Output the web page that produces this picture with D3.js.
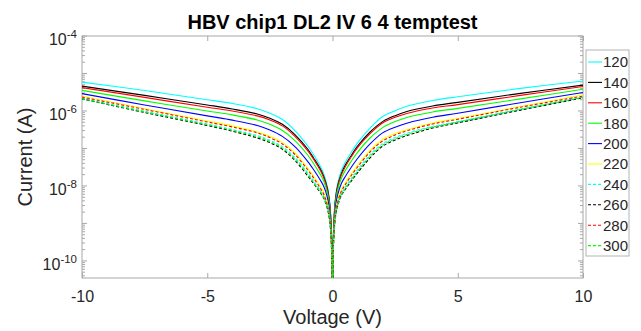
<!DOCTYPE html>
<html>
<head>
<meta charset="utf-8">
<script src="https://cdn.jsdelivr.net/npm/d3@7"></script>
<style>
  body { margin: 0; background: #fff; }
  svg { font-family: "Liberation Sans", Arial, sans-serif; }
  .axis path, .axis line { stroke: #a8a8a8; }
  .axis text { fill: #262626; font-size: 16px; }
</style>
</head>
<body>
<div id="chart"></div>
<script>
// Temperatures (legend labels) and sweep voltages
const temps = ["120", "140", "160", "180", "200", "220", "240", "260", "280", "300"];
const voltage = [-10, -7.5, -5, -4, -3, -2.5, -2, -1.5, -1, -0.75, -0.5, -0.35, -0.2, -0.12, -0.06, -0.02, 0,
  0.02, 0.06, 0.12, 0.2, 0.35, 0.5, 0.75, 1, 1.5, 2, 2.5, 3, 4, 5, 7.5, 10];

// |Current| (A) per temperature, same order as voltage
const current120 = [5.9e-6, 3.5e-6, 2.0e-6, 1.58e-6, 1.15e-6, 8.7e-7, 5.9e-7, 3.0e-7, 1.2e-7, 6.8e-8, 3.5e-8, 2.1e-8, 9.5e-9, 4.3e-9, 1.26e-9, 1.78e-10, 2e-11,
  2.0e-10, 1.41e-9, 5.0e-9, 1.12e-8, 2.5e-8, 4.2e-8, 7.9e-8, 1.41e-7, 3.5e-7, 7.1e-7, 1.02e-6, 1.35e-6, 1.9e-6, 2.4e-6, 4.0e-6, 6.3e-6];
const current140 = [4.6e-6, 2.6e-6, 1.45e-6, 1.13e-6, 8.3e-7, 6.4e-7, 4.4e-7, 2.35e-7, 9.8e-8, 5.5e-8, 2.95e-8, 1.8e-8, 8.3e-9, 3.8e-9, 1.12e-9, 1.58e-10, 2e-11,
  1.78e-10, 1.26e-9, 4.5e-9, 9.8e-9, 2.1e-8, 3.5e-8, 6.5e-8, 1.15e-7, 2.75e-7, 5.2e-7, 7.5e-7, 9.8e-7, 1.36e-6, 1.7e-6, 2.95e-6, 4.9e-6];
const current160 = [4.2e-6, 2.3e-6, 1.26e-6, 1.0e-6, 7.4e-7, 5.75e-7, 4.0e-7, 2.1e-7, 8.9e-8, 5.1e-8, 2.7e-8, 1.66e-8, 7.6e-9, 3.5e-9, 1.05e-9, 1.5e-10, 2e-11,
  1.7e-10, 1.17e-9, 4.1e-9, 8.9e-9, 1.95e-8, 3.16e-8, 6.0e-8, 1.05e-7, 2.5e-7, 4.8e-7, 6.8e-7, 8.7e-7, 1.2e-6, 1.48e-6, 2.6e-6, 4.5e-6];
const current180 = [3.55e-6, 1.86e-6, 1.0e-6, 7.85e-7, 5.75e-7, 4.4e-7, 3.0e-7, 1.62e-7, 6.8e-8, 3.9e-8, 2.1e-8, 1.35e-8, 6.3e-9, 2.95e-9, 9.1e-10, 1.35e-10, 2e-11,
  1.5e-10, 1.02e-9, 3.5e-9, 7.4e-9, 1.58e-8, 2.5e-8, 4.6e-8, 7.9e-8, 1.9e-7, 3.6e-7, 5.2e-7, 6.8e-7, 9.4e-7, 1.17e-6, 2.1e-6, 3.8e-6];
const current200 = [2.9e-6, 1.45e-6, 7.4e-7, 5.7e-7, 4.1e-7, 3.1e-7, 2.1e-7, 1.12e-7, 4.6e-8, 2.7e-8, 1.48e-8, 9.8e-9, 4.8e-9, 2.3e-9, 7.2e-10, 1.12e-10, 2e-11,
  1.26e-10, 8.1e-10, 2.7e-9, 5.6e-9, 1.15e-8, 1.74e-8, 3.16e-8, 5.4e-8, 1.32e-7, 2.6e-7, 3.7e-7, 4.8e-7, 6.8e-7, 8.7e-7, 1.66e-6, 3.1e-6];
const current220 = [2.5e-6, 1.15e-6, 5.4e-7, 4.0e-7, 2.75e-7, 2.1e-7, 1.45e-7, 7.6e-8, 3.0e-8, 1.78e-8, 1.0e-8, 6.8e-9, 3.4e-9, 1.7e-9, 5.6e-10, 8.9e-11, 2e-11,
  1.0e-10, 6.3e-10, 2.0e-9, 4.0e-9, 7.9e-9, 1.17e-8, 2.1e-8, 3.5e-8, 8.9e-8, 1.74e-7, 2.5e-7, 3.2e-7, 4.8e-7, 6.3e-7, 1.32e-6, 2.7e-6];
const current240 = [2.2e-6, 9.8e-7, 4.5e-7, 3.2e-7, 2.2e-7, 1.66e-7, 1.12e-7, 5.75e-8, 2.3e-8, 1.35e-8, 7.8e-9, 5.2e-9, 2.7e-9, 1.38e-9, 4.8e-10, 7.9e-11, 2e-11,
  8.9e-11, 5.4e-10, 1.62e-9, 3.16e-9, 6.2e-9, 9.1e-9, 1.58e-8, 2.7e-8, 6.8e-8, 1.35e-7, 1.95e-7, 2.6e-7, 3.9e-7, 5.2e-7, 1.12e-6, 2.35e-6];
const current260 = [2.1e-6, 9.1e-7, 4.1e-7, 2.9e-7, 1.9e-7, 1.43e-7, 9.5e-8, 4.8e-8, 1.9e-8, 1.15e-8, 6.8e-9, 4.7e-9, 2.4e-9, 1.26e-9, 4.4e-10, 7.4e-11, 2e-11,
  8.3e-11, 4.9e-10, 1.48e-9, 2.8e-9, 5.5e-9, 7.9e-9, 1.35e-8, 2.24e-8, 5.6e-8, 1.15e-7, 1.68e-7, 2.24e-7, 3.5e-7, 4.8e-7, 1.05e-6, 2.24e-6];
const current280 = [2.35e-6, 1.1e-6, 5.1e-7, 3.75e-7, 2.6e-7, 1.95e-7, 1.32e-7, 6.9e-8, 2.75e-8, 1.62e-8, 8.9e-9, 6.0e-9, 3.0e-9, 1.55e-9, 5.2e-10, 8.5e-11, 2e-11,
  9.5e-11, 5.9e-10, 1.8e-9, 3.55e-9, 7.1e-9, 1.05e-8, 1.9e-8, 3.2e-8, 8.1e-8, 1.58e-7, 2.3e-7, 3.0e-7, 4.5e-7, 6.0e-7, 1.26e-6, 2.5e-6];
const current300 = [2.1e-6, 9.5e-7, 4.3e-7, 3.05e-7, 2.05e-7, 1.53e-7, 1.02e-7, 5.2e-8, 2.1e-8, 1.23e-8, 7.1e-9, 4.9e-9, 2.5e-9, 1.32e-9, 4.5e-10, 7.6e-11, 2e-11,
  8.5e-11, 5.0e-10, 1.55e-9, 2.95e-9, 5.75e-9, 8.3e-9, 1.45e-8, 2.45e-8, 6.2e-8, 1.23e-7, 1.8e-7, 2.4e-7, 3.7e-7, 5.0e-7, 1.1e-6, 2.3e-6];

const currents = [current120, current140, current160, current180, current200,
  current220, current240, current260, current280, current300];
const colors = ["#00ffff", "#000000", "#ff0000", "#00ff00", "#0000ff",
  "#ffff00", "#00ffff", "#000000", "#ff0000", "#00ff00"];
const dashed = [false, false, false, false, false, false, true, true, true, true];

const xTicks = [-10, -5, 0, 5, 10];
const yLabelExps = [-4, -6, -8, -10];

const margin = { top: 36, right: 58, bottom: 53, left: 82 };
const width = 641 - margin.left - margin.right;
const height = 331 - margin.top - margin.bottom;

const svgRoot = d3.select("#chart").append("svg")
  .attr("width", 641)
  .attr("height", 331);

const svg = svgRoot.append("g")
  .attr("transform", `translate(${margin.left},${margin.top})`);

const x = d3.scaleLinear().domain([-10, 10]).range([0, width]);
const y = d3.scaleLog().domain([3.5e-11, 1e-4]).range([height, 0]);

svg.append("clipPath").attr("id", "plot-clip")
  .append("rect").attr("width", width).attr("height", height);

// Box
svg.append("rect")
  .attr("width", width).attr("height", height)
  .attr("fill", "none").attr("stroke", "#a8a8a8");

// x ticks (bottom and top, pointing inward)
const xAxis = d3.axisBottom(x).tickValues(xTicks).tickSizeInner(-5).tickSizeOuter(0).tickPadding(13)
  .tickFormat(d => d < 0 ? "-" + Math.abs(d) : String(d));
const xg = svg.append("g").attr("class", "axis").attr("transform", `translate(0,${height})`).call(xAxis);
xg.select(".domain").remove();

const xTop = svg.append("g").attr("class", "axis").call(d3.axisTop(x).tickValues(xTicks).tickSizeInner(-5).tickFormat(""));
xTop.select(".domain").remove();

// y ticks (log, minor ticks at every 1..9 step)
const yTickVals = y.ticks();
const isMajor = d => Math.abs(Math.log10(d) - Math.round(Math.log10(d))) < 1e-6;
[0, width].forEach(px => {
  const dir = px === 0 ? 1 : -1;
  svg.append("g").attr("class", "axis")
    .selectAll("line")
    .data(yTickVals)
    .join("line")
    .attr("x1", px)
    .attr("x2", d => px + dir * (isMajor(d) ? 5 : 3))
    .attr("y1", d => y(d))
    .attr("y2", d => y(d));
});

// y tick labels as 10^n
const yLab = svg.append("g").attr("class", "axis");
yLabelExps.forEach(e => {
  const t = yLab.append("text")
    .attr("x", -5)
    .attr("y", y(Math.pow(10, e)) + 9)
    .attr("text-anchor", "end");
  t.append("tspan").text("10");
  t.append("tspan").attr("dy", -7).style("font-size", "11.5px").text(String(e));
});

// Lines
const line = d3.line()
  .x((d, i) => x(voltage[i]))
  .y(d => y(d))
  .curve(d3.curveCatmullRom.alpha(0.5));

svg.append("g").attr("clip-path", "url(#plot-clip)")
  .selectAll("path")
  .data(currents)
  .join("path")
  .attr("fill", "none")
  .attr("stroke", (d, i) => colors[i])
  .attr("stroke-width", 1.1)
  .attr("stroke-dasharray", (d, i) => dashed[i] ? "3,2" : null)
  .attr("d", line);

// Title and axis labels
svgRoot.append("text")
  .attr("x", margin.left + width / 2)
  .attr("y", 29)
  .attr("text-anchor", "middle")
  .style("font-size", "20px")
  .style("font-weight", "bold")
  .style("fill", "#000")
  .text("HBV chip1 DL2 IV 6 4 temptest");

svgRoot.append("text")
  .attr("x", margin.left + width / 2)
  .attr("y", 324)
  .attr("text-anchor", "middle")
  .style("font-size", "20px")
  .style("fill", "#262626")
  .text("Voltage (V)");

svgRoot.append("text")
  .attr("transform", `translate(32,${margin.top + height / 2}) rotate(-90)`)
  .attr("text-anchor", "middle")
  .style("font-size", "20px")
  .style("fill", "#262626")
  .text("Current (A)");

// Legend
const legend = svgRoot.append("g").attr("transform", "translate(586,50)");
legend.append("rect")
  .attr("width", 43).attr("height", 206)
  .attr("fill", "#fff").attr("stroke", "#b4b4b4");

const rowH = 20.4;
const item = legend.selectAll("g.item")
  .data(temps)
  .join("g")
  .attr("class", "item")
  .attr("transform", (d, i) => `translate(0,${12 + i * rowH})`);

item.append("line")
  .attr("x1", 2).attr("x2", 16)
  .attr("stroke", (d, i) => colors[i])
  .attr("stroke-width", 1.1)
  .attr("stroke-dasharray", (d, i) => dashed[i] ? "3,2" : null);

item.append("text")
  .attr("x", 17)
  .attr("dy", "0.36em")
  .style("font-size", "15px")
  .style("fill", "#262626")
  .text(d => d);
</script>
</body>
</html>
